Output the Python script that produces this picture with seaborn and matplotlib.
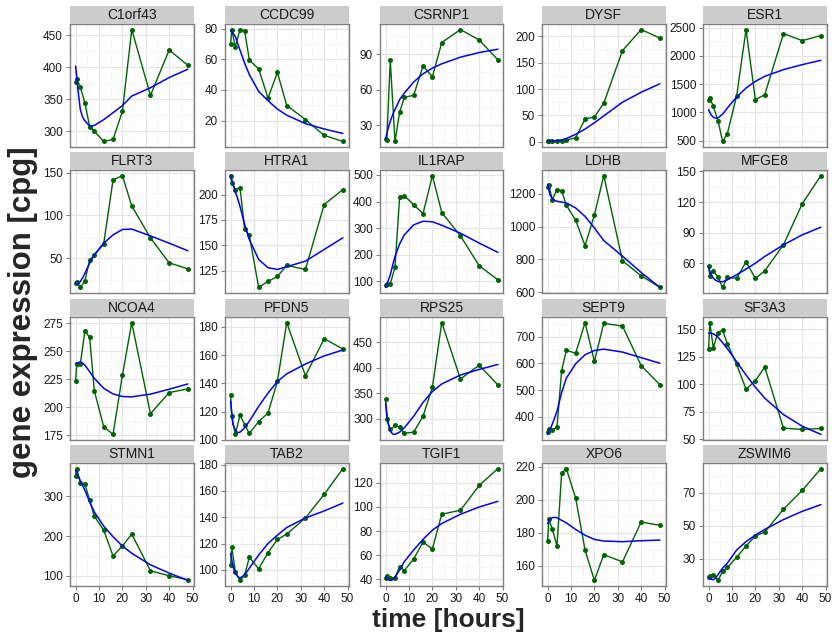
import numpy as np
import pandas as pd
import matplotlib
matplotlib.use("Agg")
import matplotlib.pyplot as plt
from matplotlib.patches import Rectangle
from matplotlib.ticker import FixedLocator, AutoMinorLocator
import seaborn as sns

sns.set_theme(style="white")
plt.rcParams['font.family'] = ['Liberation Sans', 'DejaVu Sans']

genes = ["C1orf43", "CCDC99", "CSRNP1", "DYSF", "ESR1",
         "FLRT3", "HTRA1", "IL1RAP", "LDHB", "MFGE8",
         "NCOA4", "PFDN5", "RPS25", "SEPT9", "SF3A3",
         "STMN1", "TAB2", "TGIF1", "XPO6", "ZSWIM6"]

time_pts = [0, 0.5, 2, 4, 6, 8, 12, 16, 20, 24, 32, 40, 48]
fit_time = [0, 1, 2, 3, 4, 6, 8, 12, 16, 20, 24, 32, 40, 48]

obs_C1orf43 = [377, 382, 369, 344, 307, 300, 284, 287, 331, 459, 356, 427, 403]
obs_CCDC99 = [70, 79.4, 68, 79.4, 78.5, 59.6, 53.6, 34.7, 51.4, 29.8, 20.7, 10.3, 6.4]
obs_CSRNP1 = [18.3, 17.7, 84.7, 16.6, 41.2, 53.7, 55.4, 80.2, 71, 99.8, 110.7, 102, 85.3]
obs_DYSF = [1, 1, 1, 1.5, 2, 3, 7.5, 43, 47, 73, 173, 213, 197]
obs_ESR1 = [1226, 1261, 1108, 854, 488, 624, 1296, 2465, 1226, 1314, 2394, 2270, 2358]
obs_FLRT3 = [21.2, 22.4, 15.8, 23.5, 48, 53.5, 66.7, 141.4, 146.5, 111, 73.7, 44.5, 37.5]
obs_HTRA1 = [218.7, 211.1, 204.9, 206.9, 166.2, 159.7, 108.5, 114.4, 119.3, 130.2, 126.2, 190.2, 204.9]
obs_IL1RAP = [87.5, 91.3, 91.3, 152.5, 417.5, 422.5, 387.5, 355, 497.5, 358.8, 271, 158.8, 106]
obs_LDHB = [1240, 1252, 1165, 1227, 1220, 1131, 1039, 884, 1071, 1312, 792, 700, 629]
obs_MFGE8 = [57.7, 48, 52.8, 46.3, 36.6, 46.7, 45.4, 61.6, 45.4, 52.8, 78.2, 118.2, 145.8]
obs_NCOA4 = [223.5, 239.1, 238.5, 268.5, 262.4, 214.7, 182.9, 175.9, 228.5, 275.6, 194.4, 213.2, 216.5]
obs_PFDN5 = [131.9, 116.5, 103.8, 117.4, 110.8, 104.5, 112.9, 119, 141.3, 183, 145.3, 171.6, 164.3]
obs_RPS25 = [339.5, 300.7, 279.3, 287.1, 283.9, 271.6, 274.2, 305.2, 362.1, 488.8, 378.2, 405.4, 366.6]
obs_SEPT9 = [341.8, 353.2, 350.6, 360.8, 573, 649, 639, 754, 608, 751, 741, 592, 520]
obs_SF3A3 = [132.3, 156, 133.2, 147, 149.1, 136.8, 118, 95.5, 103.3, 115.6, 60.2, 59, 59.9]
obs_STMN1 = [352.5, 370, 334, 330.8, 290, 250, 215, 150, 175, 205, 112.5, 100, 90]
obs_TAB2 = [103.5, 117.4, 98.7, 92, 96.2, 109.6, 100.8, 113.1, 123.1, 127.2, 139.5, 157.4, 177]
obs_TGIF1 = [41.6, 43, 41.6, 41.1, 50.7, 47.4, 57, 71, 65.2, 94, 97.3, 117.8, 131.8]
obs_XPO6 = [175, 188.1, 182.3, 172, 216.2, 218.8, 200.9, 169.6, 151.2, 166.8, 162.4, 186.5, 184.5]
obs_ZSWIM6 = [18.5, 19.1, 20.2, 16.7, 22.2, 24.6, 30.8, 37.6, 43.7, 46.1, 60, 71.4, 84.7]

fit_C1orf43 = [402, 365, 334, 322, 316, 308, 309, 318, 329, 340, 355, 368, 384, 397]
fit_CCDC99 = [79, 77, 75, 70.5, 66, 57.5, 50, 39, 33, 27.5, 23.5, 18, 14.5, 11.6]
fit_CSRNP1 = [18.8, 27, 33.6, 39, 43.4, 51.8, 57.3, 66.6, 73.5, 78.3, 81.9, 87.5, 91.4, 94.2]
fit_DYSF = [0.5, 0.6, 1, 1.3, 2, 3.5, 6, 14, 24, 36, 49, 75, 94, 110]
fit_ESR1 = [1050, 960, 915, 900, 905, 970, 1078, 1273, 1432, 1550, 1639, 1757, 1845, 1922]
fit_FLRT3 = [20.8, 18.9, 22.8, 27, 32.5, 44.2, 53.9, 67.5, 77.2, 83.5, 84, 76, 67.5, 58.6]
fit_HTRA1 = [218.7, 211, 203, 196, 188.5, 170.5, 155.7, 136, 127.9, 126.2, 128.9, 134.4, 145.9, 157.4]
fit_IL1RAP = [77.5, 100, 125, 160, 193.8, 241, 275, 312.5, 326, 324, 311, 281, 244, 209]
fit_LDHB = [1259, 1196, 1169, 1160, 1155, 1150, 1145, 1114, 1063, 992, 915, 820, 720, 629]
fit_MFGE8 = [56.4, 49, 45.7, 43.5, 42.4, 42.1, 44, 49, 54.5, 60.3, 66.8, 78.2, 87.9, 95.4]
fit_NCOA4 = [239.1, 239.7, 240.6, 239.5, 237.6, 231.8, 225.9, 217, 212, 209.7, 209.4, 211.8, 216.2, 220.9]
fit_PFDN5 = [127.2, 110.8, 106.9, 105, 105.4, 108.5, 113.2, 123.7, 133.1, 141.3, 146.7, 153.7, 159.4, 163.6]
fit_RPS25 = [331, 292.3, 276.1, 270.3, 269.6, 274.2, 282.6, 305.2, 332.4, 353.7, 368.6, 386, 397, 406.7]
fit_SEPT9 = [333, 350, 372, 395, 420, 491, 545, 599, 633, 649, 654, 643, 622, 601]
fit_SF3A3 = [146.4, 146.4, 145.8, 144.5, 142.8, 137.7, 132.3, 120.4, 108.4, 97.3, 87.4, 72.5, 62, 54.5]
fit_STMN1 = [365, 352, 340, 327, 315, 285.8, 260.8, 225, 198.3, 175, 156.7, 127.5, 106.7, 88.3]
fit_TAB2 = [112.6, 102.5, 97.5, 95, 93.7, 96.2, 101.3, 111.3, 120.1, 126.4, 132.2, 139.5, 144.8, 150.8]
fit_TGIF1 = [42.5, 40.3, 39.2, 39.7, 41.9, 47.9, 54.8, 64.4, 73.2, 80.8, 86.3, 94, 100, 104.7]
fit_XPO6 = [185.5, 188.3, 189.1, 189.3, 189.1, 187.5, 186, 182, 178.5, 176, 175, 174.6, 175.2, 175.6]
fit_ZSWIM6 = [18.1, 17.5, 17.1, 18.1, 20.2, 24.2, 27.2, 35.2, 40.3, 44.3, 47.7, 53.7, 58.7, 62.8]

yticks = {
    "C1orf43": [300, 350, 400, 450], "CCDC99": [20, 40, 60, 80], "CSRNP1": [30, 60, 90],
    "DYSF": [0, 50, 100, 150, 200], "ESR1": [500, 1000, 1500, 2000, 2500],
    "FLRT3": [50, 100, 150], "HTRA1": [125, 150, 175, 200], "IL1RAP": [100, 200, 300, 400, 500],
    "LDHB": [600, 800, 1000, 1200], "MFGE8": [60, 90, 120, 150],
    "NCOA4": [175, 200, 225, 250, 275], "PFDN5": [100, 120, 140, 160, 180],
    "RPS25": [300, 350, 400, 450], "SEPT9": [400, 500, 600, 700], "SF3A3": [50, 75, 100, 125, 150],
    "STMN1": [100, 200, 300], "TAB2": [100, 120, 140, 160, 180], "TGIF1": [40, 60, 80, 100, 120],
    "XPO6": [160, 180, 200, 220], "ZSWIM6": [30, 50, 70],
}

g = globals()
obs_df = pd.concat([pd.DataFrame({"gene": gn, "time": time_pts, "value": g["obs_" + gn]}) for gn in genes])
fit_df = pd.concat([pd.DataFrame({"gene": gn, "time": fit_time, "value": g["fit_" + gn]}) for gn in genes])

W, H = 832, 637
fig = plt.figure(figsize=(W / 100, H / 100), dpi=100)

col_left = [70, 225, 380, 542, 703]
row_top = [24, 170, 317, 463]
pw, ph = 123.5, 123
strip_h = 18

for i, gn in enumerate(genes):
    r, c = divmod(i, 5)
    x0 = col_left[c]
    y0 = row_top[r]
    ax = fig.add_axes([x0 / W, 1 - (y0 + ph) / H, pw / W, ph / H])
    d_obs = obs_df[obs_df.gene == gn]
    d_fit = fit_df[fit_df.gene == gn]
    sns.lineplot(data=d_obs, x="time", y="value", ax=ax, color="#006400",
                 linewidth=1.0, marker="o", markersize=3.6, markeredgewidth=0,
                 estimator=None, zorder=3)
    sns.lineplot(data=d_fit, x="time", y="value", ax=ax, color="#0000FF",
                 linewidth=1.1, estimator=None, zorder=4)
    ax.set_xlim(-2.4, 50.4)
    allv = list(d_obs.value) + list(d_fit.value)
    lo, hi = min(allv), max(allv)
    pad = (hi - lo) * 0.05
    ax.set_ylim(lo - pad, hi + pad)
    ax.xaxis.set_major_locator(FixedLocator([0, 10, 20, 30, 40, 50]))
    ax.xaxis.set_minor_locator(FixedLocator([5, 15, 25, 35, 45]))
    ax.yaxis.set_major_locator(FixedLocator(yticks[gn]))
    ax.yaxis.set_minor_locator(AutoMinorLocator(2))
    ax.set_facecolor("white")
    ax.grid(which="major", color="#E5E5E5", linewidth=0.9, zorder=0)
    ax.grid(which="minor", color="#F5F5F5", linewidth=0.6, zorder=0)
    ax.set_axisbelow(True)
    for s in ax.spines.values():
        s.set_color("#808080")
        s.set_linewidth(1.0)
    ax.tick_params(axis="y", which="major", length=3, width=0.8, color="#808080",
                   labelsize=8.5, labelcolor="#1a1a1a", pad=2, left=True)
    ax.tick_params(which="minor", length=0)
    if r == 3:
        ax.tick_params(axis="x", which="major", length=3, width=0.8, color="#808080",
                       labelsize=8.5, labelcolor="#1a1a1a", pad=2, bottom=True)
    else:
        ax.tick_params(axis="x", which="major", length=0, labelbottom=False)
    ax.set_xlabel("")
    ax.set_ylabel("")
    ax.add_patch(Rectangle((0, 1), 1, strip_h / ph, transform=ax.transAxes,
                           facecolor="#CCCCCC", edgecolor="none", clip_on=False, zorder=5))
    ax.text(0.5, 1 + strip_h / ph / 2, gn, transform=ax.transAxes, ha="center", va="center",
            fontsize=10, color="#1a1a1a", zorder=6)

fig.text(448 / W, 1 - 620 / H, "time [hours]", ha="center", va="center",
         fontsize=19, fontweight="bold")
fig.text(23 / W, 1 - 312 / H, "gene expression [cpg]", ha="center", va="center",
         rotation=90, fontsize=22.5, fontweight="bold")

fig.savefig("out.png", dpi=100)
